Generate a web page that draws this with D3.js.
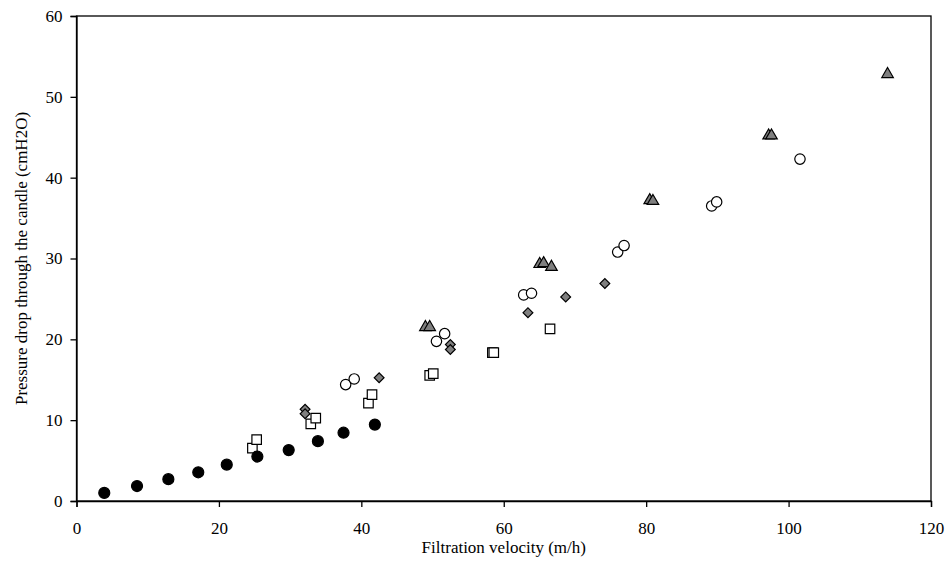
<!DOCTYPE html>
<html><head><meta charset="utf-8">
<script src="https://cdn.jsdelivr.net/npm/d3@7"></script>
<style>body{margin:0;background:#fff}svg{display:block}</style>
</head><body><svg id="c" width="947" height="563"></svg>
<script>
const xTicks=[0,20,40,60,80,100,120];
const yTicks=[0,10,20,30,40,50,60];
const xLabel="Filtration velocity (m/h)";
const yLabel="Pressure drop through the candle (cmH2O)";
// series: filled circles
const s1x=[3.9,8.5,12.9,17.1,21.1,25.4,29.8,33.9,37.5,41.9];
const s1y=[1.0,1.85,2.7,3.55,4.5,5.5,6.3,7.4,8.45,9.45];
// open squares
const s2x=[24.7,25.3,32.9,33.6,41.0,41.5,49.6,50.1,58.4,58.6,66.5];
const s2y=[6.55,7.6,9.55,10.25,12.1,13.15,15.55,15.75,18.35,18.35,21.3];
// gray diamonds
const s3x=[32.1,32.1,42.5,52.5,52.5,63.4,68.7,74.2];
const s3y=[11.35,10.8,15.25,19.35,18.75,23.3,25.25,26.9];
// open circles
const s4x=[37.8,39.0,50.55,51.7,62.8,63.9,76.0,76.9,89.2,89.9,101.6];
const s4y=[14.4,15.1,19.75,20.7,25.5,25.7,30.8,31.6,36.5,37.0,42.3];
// gray triangles
const s5x=[49.0,49.6,65.05,65.6,66.7,80.5,80.95,97.2,97.6,113.9];
const s5y=[21.5,21.5,29.3,29.4,28.95,37.2,37.1,45.2,45.2,52.8];

const svg=d3.select("#c");
const L=76.5,R=931,T=16,B=501;
const x=d3.scaleLinear().domain([0,120]).range([L,R]);
const y=d3.scaleLinear().domain([0,60]).range([B,T]);
const font="'Liberation Serif','Times New Roman',serif";
const fs=17;

svg.append("rect").attr("x",L).attr("y",T).attr("width",R-L).attr("height",B-T)
  .attr("fill","none").attr("stroke","#000").attr("stroke-width",1.3);

const gx=svg.append("g").attr("transform",`translate(0,${B})`)
  .call(d3.axisBottom(x).tickValues(xTicks).tickSize(6).tickPadding(15).tickFormat(d3.format("d")));
const gy=svg.append("g").attr("transform",`translate(${L},0)`)
  .call(d3.axisLeft(y).tickValues(yTicks).tickSize(6).tickPadding(8).tickFormat(d3.format("d")));
[gx,gy].forEach(g=>{
  g.attr("font-family",font).attr("font-size",fs);
  g.select(".domain").attr("stroke","#000").attr("stroke-width",1.3);
  g.selectAll(".tick line").attr("stroke","#000").attr("stroke-width",1.3);
  g.selectAll("text").attr("font-family",font).attr("font-size",fs).attr("fill","#000");
});

svg.append("text").attr("x",(L+R)/2).attr("y",553).attr("text-anchor","middle")
  .attr("font-family",font).attr("font-size",fs).text(xLabel);
svg.append("text").attr("transform",`translate(27,${(T+B)/2}) rotate(-90)`)
  .attr("text-anchor","middle")
  .attr("font-family",font).attr("font-size",fs).text(yLabel);

function draw(xs,ys,type,size,fill,rot){
  const sym=d3.symbol().type(type).size(size);
  svg.append("g").selectAll("path").data(xs.map((v,i)=>[v,ys[i]])).join("path")
    .attr("transform",d=>`translate(${x(d[0])},${y(d[1])}) rotate(${rot||0})`)
    .attr("d",sym).attr("fill",fill).attr("stroke","#000").attr("stroke-width",1.2);
}
draw(s2x,s2y,d3.symbolSquare,90,"#fff");
draw(s4x,s4y,d3.symbolCircle,85,"#fff");
draw(s3x,s3y,d3.symbolSquare,48,"#7f7f7f",45);
draw(s5x,s5y,d3.symbolTriangle,58,"#7f7f7f");
draw(s1x,s1y,d3.symbolCircle,95,"#000");
</script></body></html>
